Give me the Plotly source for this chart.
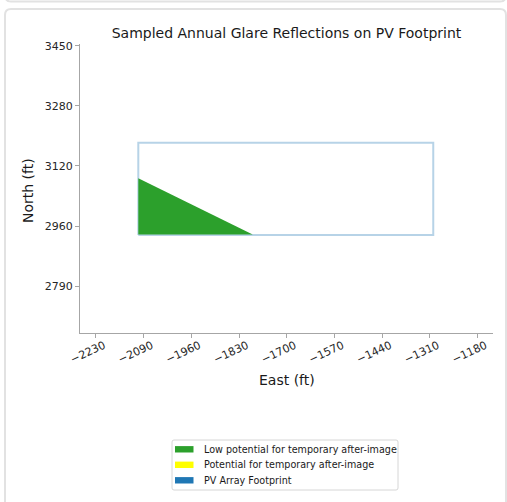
import plotly.graph_objects as go

# ---- data ----
footprint_x = [-2113.6, -1302.0, -1302.0, -2113.6, -2113.6]
footprint_y = [2936.6, 2936.6, 3187.0, 3187.0, 2936.6]

glare_low_x = [-2113.6, -2113.6, -1798.8, -2113.6]
glare_low_y = [3090.4, 2938.0, 2938.0, 3090.4]

x_tick_vals = [-2230, -2098.75, -1967.5, -1836.25, -1705, -1573.75, -1442.5, -1311.25, -1180]
x_tick_text = ["\u22122230", "\u22122090", "\u22121960", "\u22121830", "\u22121700",
               "\u22121570", "\u22121440", "\u22121310", "\u22121180"]
y_tick_vals = [3450, 3287, 3124, 2961, 2798]
y_tick_text = ["3450", "3280", "3120", "2960", "2790"]

legend_names = ["Low potential for temporary after-image",
                "Potential for temporary after-image",
                "PV Array Footprint"]
legend_colors = ["#2ca02c", "#ffff00", "#1f77b4"]

# ---- geometry ----
W, H = 507, 502
L, R, T, B = 80, 493, 44, 333
X_RANGE = [-2274.0, -1137.6]
Y_RANGE = [2670.8, 3454.6]

def px(xp):
    return (xp - L) / (R - L)

def py(yp):
    return (B - yp) / (B - T)

FONT = "DejaVu Sans"
SPINE = "#a6a6a6"
TXT = "#1a1a1a"

fig = go.Figure()

# footprint outline
fig.add_trace(go.Scatter(
    x=footprint_x, y=footprint_y, mode="lines",
    line=dict(color="rgba(31,119,180,0.32)", width=2),
    name=legend_names[2], showlegend=False, hoverinfo="skip"))

# glare polygon
fig.add_trace(go.Scatter(
    x=glare_low_x, y=glare_low_y, mode="lines", fill="toself",
    fillcolor=legend_colors[0], line=dict(width=0, color=legend_colors[0]),
    name=legend_names[0], showlegend=False))

card_color = "#e2e2e2"
shapes = [
    dict(type="path", xref="paper", yref="paper", layer="below",
         path=(f"M{px(5)},{py(620)} L{px(5)},{py(15)} Q{px(5)},{py(9)} {px(11)},{py(9)} "
               f"L{px(500)},{py(9)} Q{px(506)},{py(9)} {px(506)},{py(15)} L{px(506)},{py(620)}"),
         line=dict(color=card_color, width=2)),
    dict(type="path", xref="paper", yref="paper", layer="below",
         path=(f"M{px(5)},{py(-20)} L{px(5)},{py(-5)} Q{px(5)},{py(1.5)} {px(11)},{py(1.5)} "
               f"L{px(500)},{py(1.5)} Q{px(506)},{py(1.5)} {px(506)},{py(-5)} L{px(506)},{py(-20)}"),
         line=dict(color=card_color, width=2)),
    # legend box
    dict(type="path", xref="paper", yref="paper", layer="above",
         path=(f"M{px(174)},{py(440)} L{px(396)},{py(440)} Q{px(398)},{py(440)} {px(398)},{py(442)} "
               f"L{px(398)},{py(488)} Q{px(398)},{py(490)} {px(396)},{py(490)} "
               f"L{px(174)},{py(490)} Q{px(172)},{py(490)} {px(172)},{py(488)} "
               f"L{px(172)},{py(442)} Q{px(172)},{py(440)} {px(174)},{py(440)} Z"),
         line=dict(color="#d6d6d6", width=1), fillcolor="white"),
]

annotations = [
    dict(text="East (ft)", xref="paper", yref="paper", x=px(286.5), y=py(380),
         xanchor="center", yanchor="middle", showarrow=False,
         font=dict(size=14, family=FONT, color=TXT)),
    dict(text="North (ft)", xref="paper", yref="paper", x=px(28), y=py(190),
         xanchor="center", yanchor="middle", showarrow=False, textangle=-90,
         font=dict(size=14, family=FONT, color=TXT)),
]

entry_y = [449.3, 464.8, 480.3]
for name, color, ey in zip(legend_names, legend_colors, entry_y):
    shapes.append(dict(type="rect", xref="paper", yref="paper", layer="above",
                       x0=px(175), x1=px(193.5), y0=py(ey - 3.2), y1=py(ey + 3.2),
                       fillcolor=color, line=dict(width=0)))
    annotations.append(dict(text=name, xref="paper", yref="paper", x=px(201.5), y=py(ey),
                            xanchor="left", yanchor="middle", showarrow=False,
                            font=dict(size=9.6, family=FONT, color=TXT)))

fig.update_layout(
    width=W, height=H,
    margin=dict(l=L, r=W - R, t=T, b=H - B, pad=0, autoexpand=False),
    paper_bgcolor="white", plot_bgcolor="white",
    font=dict(family=FONT, color="#262626", size=11),
    title=dict(text="Sampled Annual Glare Reflections on PV Footprint",
               x=(L + R) / 2 / W, xanchor="center", y=1 - 33 / H, yanchor="middle",
               font=dict(size=14, family=FONT, color=TXT)),
    xaxis=dict(range=X_RANGE, tickvals=x_tick_vals, ticktext=x_tick_text,
               tickangle=-25, ticks="outside", ticklen=4, tickcolor=SPINE,
               showline=True, linecolor=SPINE, linewidth=1, showgrid=False, zeroline=False,
               tickfont=dict(size=11, color="#262626"), ticklabelshift=8,
               ticklabelstandoff=-3, automargin=False),
    yaxis=dict(range=Y_RANGE, tickvals=y_tick_vals, ticktext=y_tick_text,
               ticks="outside", ticklen=4, tickcolor=SPINE,
               showline=True, linecolor=SPINE, linewidth=1, showgrid=False, zeroline=False,
               tickfont=dict(size=11, color="#262626"), automargin=False),
    shapes=shapes,
    annotations=annotations,
    showlegend=False,
)

fig.write_html("out.html", post_script="document.body.style.margin='0px';",
               config={"displayModeBar": False})
